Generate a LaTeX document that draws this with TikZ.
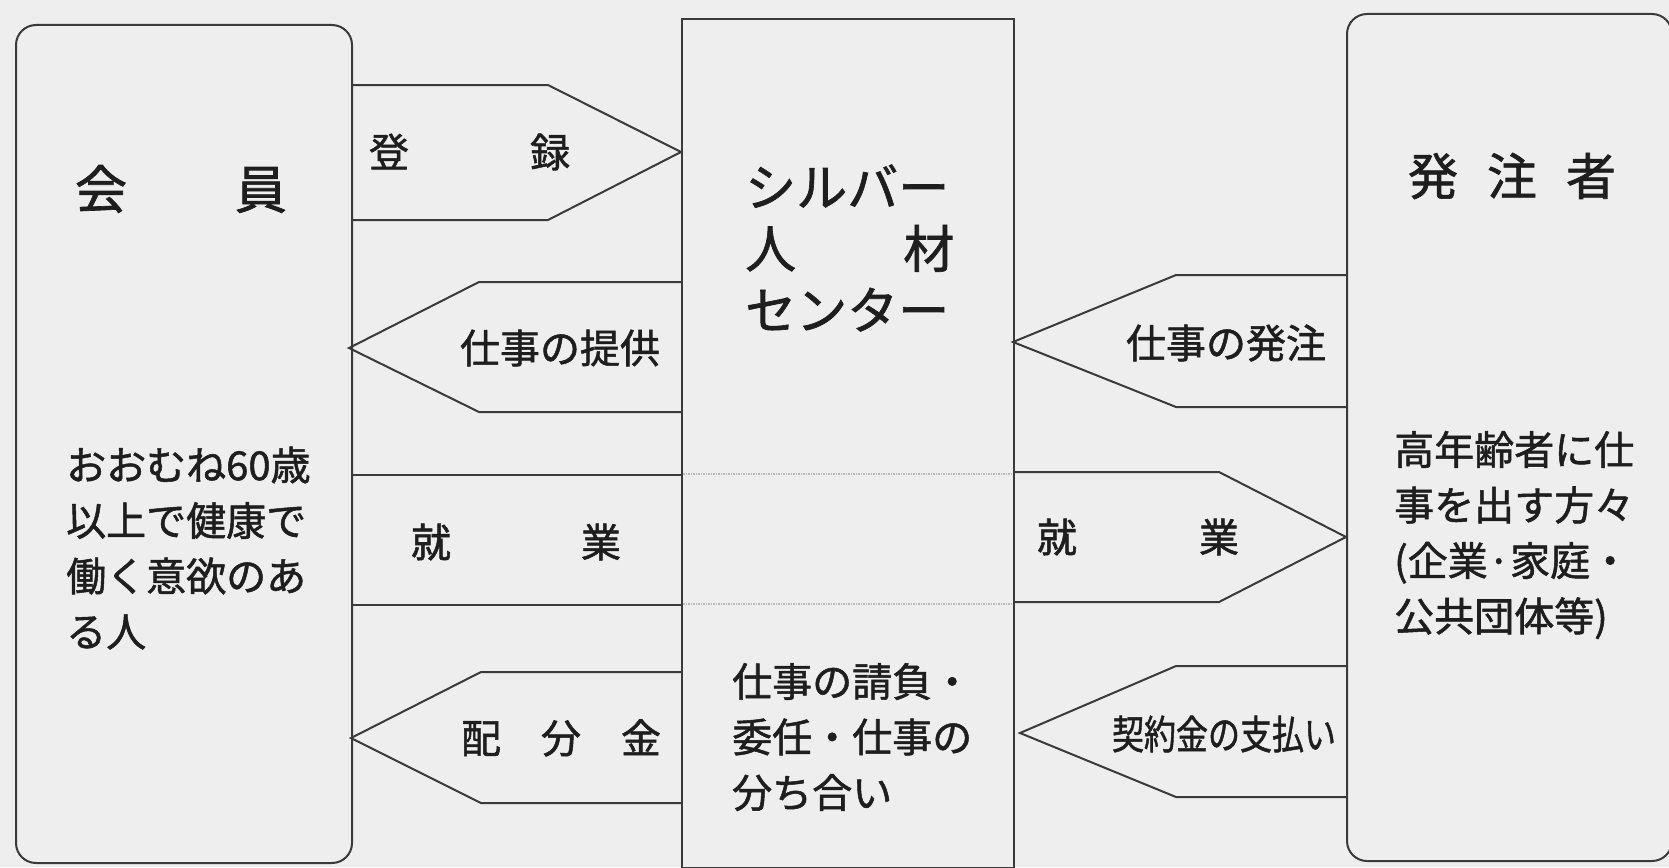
\documentclass[tikz,border=0pt]{standalone}
\usepackage{fontspec}
\usepackage{graphicx}
\setmainfont{Noto Sans CJK JP}[RawFeature={embolden=1.3}]
\definecolor{bg}{HTML}{EEEEEE}
\definecolor{ln}{HTML}{3A3A3A}
\definecolor{tx}{HTML}{1E1E1E}
\begin{document}
\begin{tikzpicture}[x=1pt,y=-1pt,line join=miter,
  boxline/.style={draw=ln,line width=2pt},
  arr/.style={draw=ln,line width=2pt},
  faint/.style={draw=ln!35,line width=1.5pt,densely dotted},
  lbl/.style={text=tx,inner sep=0pt,font=\fontsize{40}{40}\selectfont},
  desc/.style={text=tx,inner sep=0pt,align=left,anchor=west,font=\fontsize{40}{55.5}\selectfont}]
\fill[bg] (0,0) rectangle (1669,867);
\useasboundingbox (0,0) rectangle (1669,867);

% boxes
\node[boxline,rounded corners=20pt,anchor=north west,minimum width=336pt,minimum height=838pt,inner sep=0pt] (member) at (15,24) {};
\node[boxline,anchor=north west,minimum width=332pt,minimum height=849pt,inner sep=0pt] (center) at (681,18) {};
\node[boxline,rounded corners=20pt,anchor=north west,minimum width=325pt,minimum height=847pt,inner sep=0pt] (client) at (1346,13) {};

% arrows
\draw[arr] (351,85) -- (548,85) -- (681,152) -- (548,220) -- (351,220);
\draw[arr] (681,282) -- (479,282) -- (349,348) -- (479,412) -- (681,412);
\draw[arr] (351,475) -- (681,475);
\draw[arr] (351,605) -- (681,605);
\draw[faint] (683,474) -- (1011,474);
\draw[faint] (683,604) -- (1011,604);
\draw[arr] (681,672) -- (481,672) -- (351,738) -- (481,803) -- (681,803);
\draw[arr] (1346,275) -- (1176,275) -- (1013,342) -- (1176,407) -- (1346,407);
\draw[arr] (1013,472) -- (1219,472) -- (1346,537) -- (1219,602) -- (1013,602);
\draw[arr] (1346,666) -- (1176,666) -- (1020,733) -- (1176,797) -- (1346,797);

% box texts
\node[lbl,font=\fontsize{52}{52}\selectfont] (membertitle) at (181,189) {会\hspace{108pt}員};
\node[desc] (memberdesc) at (66,548) {おおむね60歳\\以上で健康で\\働く意欲のあ\\る人};
\node[desc,font=\fontsize{51}{61.5}\selectfont] (centertitle) at (745,248) {シルバー\\人\hspace{2.1em}材\\センター};
\node[desc] (centerdesc) at (732,737) {仕事の請負・\\委任・仕事の\\分ち合い};
\node[lbl,font=\fontsize{50}{50}\selectfont] (clienttitle) at (1512,176) {発\hspace{29pt}注\hspace{29pt}者};
\node[desc] (clientdesc) at (1394,535) {高年齢者に仕\\事を出す方々\\(企業·家庭・\\公共団体等)};

% arrow labels
\node[lbl] (l1) at (469.5,152) {登\hspace{121pt}録};
\node[lbl] (l2) at (560,348) {仕事の提供};
\node[lbl] (l3) at (516,542) {就\hspace{130pt}業};
\node[lbl] (l4) at (561,738) {配\hspace{40pt}分\hspace{40pt}金};
\node[lbl] (l5) at (1226,343) {仕事の発注};
\node[lbl] (l6) at (1138,537) {就\hspace{122pt}業};
\node[lbl] (l7) at (1224,734) {\scalebox{0.8}[1]{契約金の支払い}};
\end{tikzpicture}
\end{document}
